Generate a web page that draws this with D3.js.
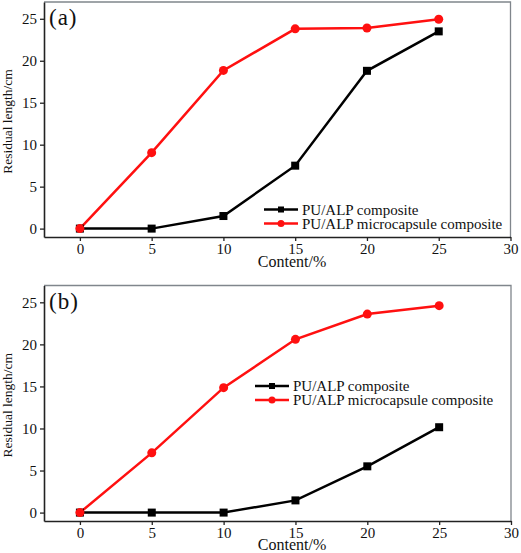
<!DOCTYPE html>
<html><head><meta charset="utf-8">
<script src="https://cdn.jsdelivr.net/npm/d3@7"></script>
<style>
html,body{margin:0;padding:0;background:#fff;}
svg{display:block;}
text{font-family:"Liberation Serif","Times New Roman",serif;fill:#111;}
</style></head>
<body>
<svg id="chart" width="521" height="553"></svg>
<script>
const contents = [0, 5, 10, 15, 20, 25];
const xTicks = [0, 5, 10, 15, 20, 25, 30];
const yTicks = [0, 5, 10, 15, 20, 25];
const seriesNames = ["PU/ALP composite", "PU/ALP microcapsule composite"];
const panelLabels = ["(a)", "(b)"];
const aComposite = [0, 0, 1.5, 7.5, 18.8, 23.5];
const aMicro = [0, 9.05, 18.85, 23.8, 23.9, 24.95];
const bComposite = [0, 0, 0, 1.45, 5.5, 10.15];
const bMicro = [0, 7.1, 14.85, 20.6, 23.6, 24.6];

const panels = [
  {label: panelLabels[0], comp: aComposite, micro: aMicro, top: 2, bottom: 237, right: 510.5, legX: 264, legY: 209.5, xlab: 30},
  {label: panelLabels[1], comp: bComposite, micro: bMicro, top: 285.5, bottom: 521, right: 511, legX: 255, legY: 386, xlab: 28.5}
];

const svg = d3.select("#chart");
const RED = "#ff1010";

panels.forEach(p => {
  const left = 44;
  const x = d3.scaleLinear().domain([-2.5, 30]).range([left, p.right]);
  const y = d3.scaleLinear().domain([-1, 27]).range([p.bottom, p.top]);
  const g = svg.append("g");

  g.append("path")
    .attr("d", `M${left},${p.top}H${p.right}V${p.bottom}`)
    .attr("fill", "none").attr("stroke", "#80868c").attr("stroke-width", 1.3);

  const ax = g.append("g").attr("transform", `translate(0,${p.bottom})`)
    .call(d3.axisBottom(x).tickValues(xTicks).tickSize(4).tickSizeOuter(0).tickPadding(2));
  const ay = g.append("g").attr("transform", `translate(${left},0)`)
    .call(d3.axisLeft(y).tickValues(yTicks).tickSize(4).tickSizeOuter(0).tickPadding(3));
  [ax, ay].forEach(a => {
    a.select(".domain").attr("stroke", "#222").attr("stroke-width", 1.6);
    a.selectAll(".tick line").attr("stroke", "#222").attr("stroke-width", 1.3);
    a.selectAll(".tick text").attr("font-size", 15).attr("font-family", "Liberation Serif, serif").attr("fill", "#111");
  });
  ax.selectAll(".tick text").attr("dy", "0.75em");

  g.append("text").attr("x", 292).attr("y", p.bottom + p.xlab)
    .attr("text-anchor", "middle").attr("font-size", 16).text("Content/%");
  g.append("text")
    .attr("transform", `translate(12,${(p.top + p.bottom) / 2 + 2}) rotate(-90)`)
    .attr("text-anchor", "middle").attr("font-size", 13.5).text("Residual length/cm");
  g.append("text").attr("x", 49).attr("y", p.top + 23)
    .attr("font-size", 23).attr("letter-spacing", 1).text(p.label);

  const line = d3.line().x((d, i) => x(contents[i])).y(d => y(d));
  g.append("path").datum(p.comp).attr("d", line)
    .attr("fill", "none").attr("stroke", "#000").attr("stroke-width", 2.5);
  g.append("path").datum(p.micro).attr("d", line)
    .attr("fill", "none").attr("stroke", RED).attr("stroke-width", 2.5);
  g.selectAll(".sq").data(p.comp).enter().append("rect")
    .attr("x", (d, i) => x(contents[i]) - 4).attr("y", d => y(d) - 4)
    .attr("width", 8).attr("height", 8).attr("fill", "#000");
  g.selectAll(".ci").data(p.micro).enter().append("circle")
    .attr("cx", (d, i) => x(contents[i])).attr("cy", d => y(d))
    .attr("r", 4.5).attr("fill", RED);

  const lg = g.append("g");
  [0, 1].forEach(k => {
    const yy = p.legY + k * 14;
    const col = k === 0 ? "#000" : RED;
    lg.append("line").attr("x1", p.legX).attr("x2", p.legX + 34).attr("y1", yy).attr("y2", yy)
      .attr("stroke", col).attr("stroke-width", 2.5);
    if (k === 0) {
      lg.append("rect").attr("x", p.legX + 14).attr("y", yy - 3).attr("width", 6).attr("height", 6).attr("fill", col);
    } else {
      lg.append("circle").attr("cx", p.legX + 17).attr("cy", yy).attr("r", 3.5).attr("fill", col);
    }
    lg.append("text").attr("x", p.legX + 38).attr("y", yy + 5)
      .attr("font-size", 15).text(seriesNames[k]);
  });
});
</script>
</body></html>
